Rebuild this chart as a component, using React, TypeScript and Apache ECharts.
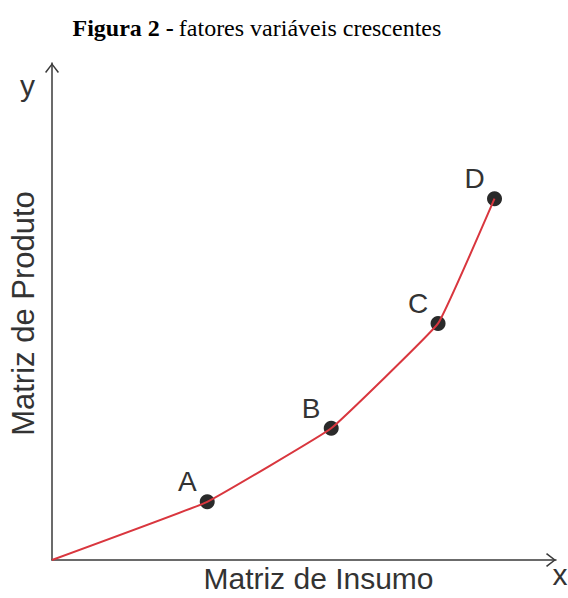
import React, { useEffect, useRef } from "react";
import * as echarts from "echarts";

const pointNames = ["", "A", "B", "C", "D"];
const inputValues = [0, 30.8, 55.4, 76.6, 87.8];
const outputValues = [0, 11.7, 26.5, 47.6, 72.7];
const titleBold = "Figura 2 -";
const titleRegular = "fatores variáveis crescentes";
const xAxisName = "Matriz de Insumo";
const yAxisName = "Matriz de Produto";

const arrowPath = "path://M7 0 L14 9 L12.8 10 L7 2.3 L1.2 10 L0 9 Z";

export default function App() {
  const ref = useRef<HTMLDivElement>(null);
  useEffect(() => {
    if (!ref.current) return;
    const chart = echarts.init(ref.current, null, { renderer: "svg" });
    const pts = inputValues.map((x, i) => [x, outputValues[i]]);
    const axisLine = {
      show: true,
      symbol: ["none", arrowPath],
      symbolSize: [14, 10],
      symbolOffset: [0, -5],
      lineStyle: { color: "#3a3a3a", width: 1.5 },
    };
    const sans = "'Liberation Sans', Arial, sans-serif";
    const serif = "'Liberation Serif', 'Times New Roman', serif";
    chart.setOption({
      animation: false,
      title: {
        text: `{b|${titleBold}} {r|${titleRegular}}`,
        left: 67.5,
        top: 11,
        textStyle: {
          fontWeight: "normal",
          rich: {
            b: { fontFamily: serif, fontWeight: "bold", fontSize: 24, color: "#000" },
            r: { fontFamily: serif, fontWeight: "normal", fontSize: 24, color: "#000" },
          },
        },
      },
      grid: { left: 51, top: 63, right: 12, bottom: 33.5 },
      xAxis: {
        type: "value",
        min: 0,
        max: 100,
        axisLine,
        axisTick: { show: false },
        axisLabel: { show: false },
        splitLine: { show: false },
        name: xAxisName,
        nameLocation: "middle",
        nameGap: 3,
        nameTextStyle: { fontFamily: sans, fontSize: 30, color: "#333", verticalAlign: "top", padding: [0, 0, 0, 29] },
      },
      yAxis: {
        type: "value",
        min: 0,
        max: 100,
        axisLine,
        axisTick: { show: false },
        axisLabel: { show: false },
        splitLine: { show: false },
        name: yAxisName,
        nameLocation: "middle",
        nameGap: 13,
        nameRotate: 90,
        nameTextStyle: { fontFamily: sans, fontSize: 31, color: "#333", verticalAlign: "bottom", padding: [0, 4, 0, 0] },
      },
      graphic: [
        { type: "text", left: 20, top: 70, style: { text: "y", fontFamily: sans, fontSize: 30, fill: "#333" } },
        { type: "text", left: 552.5, top: 559, style: { text: "x", fontFamily: sans, fontSize: 30, fill: "#333" } },
      ],
      series: [
        {
          type: "scatter",
          z: 2,
          data: pts.map((p, i) => ({ value: p, name: pointNames[i] })),
          symbolSize: (_v: any, params: any) => (params.dataIndex === 0 ? 0 : 15),
          itemStyle: { color: "#2a2a2a", opacity: 1 },
          label: {
            show: true,
            position: "inside",
            offset: [-20, -20],
            formatter: (p: any) => p.name,
            fontFamily: sans,
            fontSize: 28,
            color: "#333",
          },
        },
        {
          type: "line",
          z: 3,
          data: pts,
          smooth: 0.08,
          showSymbol: false,
          lineStyle: { color: "#d9363e", width: 2 },
        },
      ],
    });
    return () => chart.dispose();
  }, []);
  return <div ref={ref} style={{ position: "fixed", left: 0, top: 0, width: 568, height: 598, background: "#fff" }} />;
}
